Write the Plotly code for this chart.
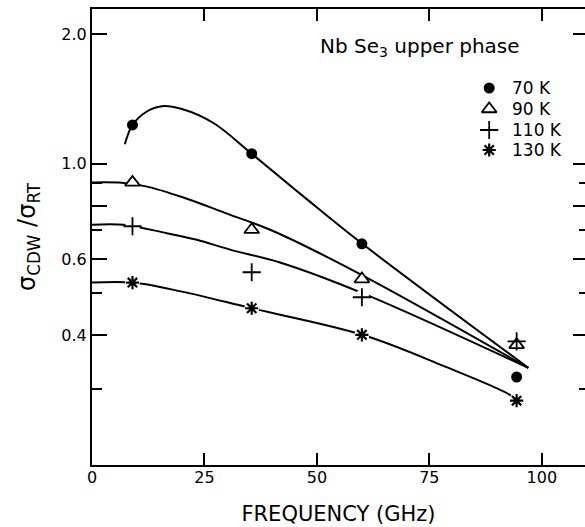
import plotly.graph_objects as go

# measured data points (frequency in GHz, sigma_CDW / sigma_RT)
freq = [9, 35.5, 60, 94.4]
y70 = [1.23, 1.055, 0.652, 0.32]
y90 = [0.905, 0.703, 0.54, 0.38]
y110 = [0.716, 0.56, 0.49, 0.387]
y130 = [0.53, 0.462, 0.401, 0.282]

# guide curves
c70_x = [7.3, 9, 12.1, 15.5, 20, 27, 35.5, 47, 60.1, 97]
c70_y = [1.11, 1.23, 1.32, 1.36, 1.34, 1.243, 1.055, 0.84, 0.652, 0.336]
c90_x = [0, 6, 12, 20, 30, 40, 60.1, 97]
c90_y = [0.905, 0.904, 0.886, 0.837, 0.766, 0.70, 0.551, 0.336]
c110_x = [0, 7, 16.6, 23.3, 30.7, 41.8, 60.1, 97]
c110_y = [0.722, 0.722, 0.69, 0.666, 0.632, 0.59, 0.501, 0.336]
c130_x = [0, 9, 20, 35.5, 60.1, 78, 92.9, 94.4]
c130_y = [0.53, 0.53, 0.505, 0.462, 0.401, 0.34, 0.291, 0.282]

labels = ["70 K", "90 K", "110 K", "130 K"]
y_tickvals = [0.4, 0.6, 1.0, 2.0]
y_ticktext = ["0.4", "0.6", "1.0", "2.0"]
y_long_unlabeled = [0.8]
y_minor = [0.3, 0.5, 0.7, 0.9]
x_tickvals = [0, 25, 50, 75, 100]
x_ticktext = ["0", "25", "50", "75", "100"]

FONT = "DejaVu Sans, Verdana, sans-serif"
BLACK = "black"

# legend layout (legend marker/text x in GHz units, row offsets in px from top of plot)
LEG_MARK_X = 88.3
LEG_TEXT_X = 93.0
LEG_ROWS = [79, 100, 121, 141]

fig = go.Figure()

for cx, cy in [(c70_x, c70_y), (c90_x, c90_y), (c110_x, c110_y), (c130_x, c130_y)]:
    fig.add_trace(go.Scatter(x=cx, y=cy, mode="lines",
                             line=dict(color=BLACK, width=2, shape="spline", smoothing=1.0),
                             showlegend=False, hoverinfo="skip"))

# white backing so curves break around markers
for ys in [y110, y130]:
    fig.add_trace(go.Scatter(x=freq, y=ys, mode="markers",
                             marker=dict(symbol="circle", size=15, color="white"),
                             showlegend=False, hoverinfo="skip"))

styles = [
    dict(symbol="circle", size=11, color=BLACK, line=dict(width=0)),
    dict(symbol="triangle-up", size=13, color="white", line=dict(color=BLACK, width=1.8)),
    dict(symbol="cross-thin", size=13, color=BLACK, line=dict(color=BLACK, width=1.8)),
    dict(symbol="asterisk", size=11, color=BLACK, line=dict(color=BLACK, width=2.2)),
]
for lab, ys, st in zip(labels, [y70, y90, y110, y130], styles):
    fig.add_trace(go.Scatter(x=freq, y=ys, mode="markers", name=lab, marker=st,
                             showlegend=False))

# legend key: one marker per series on a helper (pixel) y axis
for lab, st, ry in zip(labels, styles, LEG_ROWS):
    fig.add_trace(go.Scatter(x=[LEG_MARK_X], y=[ry], yaxis="y3", mode="markers",
                             marker=st, showlegend=False, hoverinfo="skip"))
    fig.add_annotation(x=LEG_TEXT_X, y=ry, xref="x", yref="y3", text=lab,
                       xanchor="left", yanchor="middle", showarrow=False,
                       font=dict(size=17))

# dummy traces for the extra tick axes
fig.add_trace(go.Scatter(x=[None], y=[None], yaxis="y2", showlegend=False, hoverinfo="skip"))
fig.add_trace(go.Scatter(x=[None], y=[None], yaxis="y4", showlegend=False, hoverinfo="skip"))

yrange = [-0.699, 0.359]
tick_common = dict(tickwidth=1.8, tickcolor=BLACK)

fig.update_layout(
    width=585, height=527,
    margin=dict(l=92, r=0, t=9, b=62),
    paper_bgcolor="white", plot_bgcolor="white",
    font=dict(family=FONT, color=BLACK, size=16),
    showlegend=False,
    xaxis=dict(range=[0, 109.6], tickvals=x_tickvals, ticktext=x_ticktext,
               ticks="inside", ticklen=12, **tick_common, ticklabelstandoff=-3,
               showline=True, linecolor=BLACK, linewidth=2, mirror="ticks",
               showgrid=False, zeroline=False, tickfont=dict(size=16),
               title=dict(text="FREQUENCY (GHz)", font=dict(size=21), standoff=20)),
    yaxis=dict(type="log", range=yrange, tickvals=y_tickvals, ticktext=y_ticktext,
               ticks="inside", ticklen=15, **tick_common,
               minor=dict(tickvals=y_minor, ticks="inside", ticklen=10, **tick_common),
               showline=True, linecolor=BLACK, linewidth=2,
               showgrid=False, zeroline=False, tickfont=dict(size=16)),
    yaxis2=dict(type="log", range=yrange, overlaying="y", side="right",
                tickvals=y_tickvals + y_long_unlabeled, ticks="inside", ticklen=12, **tick_common,
                minor=dict(tickvals=y_minor, ticks="inside", ticklen=6, **tick_common),
                showticklabels=False, showline=False, showgrid=False, zeroline=False),
    yaxis3=dict(range=[456, 0], overlaying="y", visible=False, showgrid=False, zeroline=False),
    yaxis4=dict(type="log", range=yrange, overlaying="y", side="left",
                tickvals=y_long_unlabeled, ticks="inside", ticklen=15, **tick_common,
                showticklabels=False, showline=False, showgrid=False, zeroline=False),
)

fig.add_annotation(xref="paper", yref="paper", x=(318 - 92) / 493, y=(465 - 47) / 456,
                   xanchor="left", yanchor="middle", showarrow=False,
                   text="Nb Se<sub>3</sub> upper phase", font=dict(size=20))
fig.add_annotation(xref="paper", yref="paper", x=(28 - 92) / 493, y=0.5,
                   xanchor="center", yanchor="middle", showarrow=False, textangle=-90,
                   text="σ<sub>CDW</sub> /σ<sub>RT</sub>", font=dict(size=24))

fig.write_html("out.html")
